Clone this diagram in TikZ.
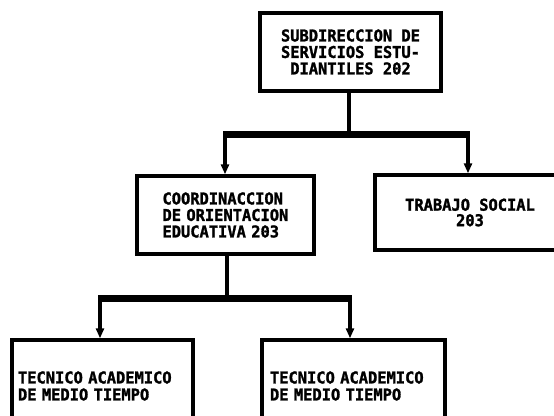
\documentclass[tikz,border=0pt]{standalone}
\usepackage{fontspec}
\newfontfamily\dm[FakeBold=1.6,FakeStretch=0.95]{DejaVu Sans Mono}
\usetikzlibrary{arrows.meta}
\begin{document}
\begin{tikzpicture}[x=1pt,y=-1pt,
  box/.style={draw,line width=3.4pt,rectangle,inner sep=0pt,
    font=\dm\bfseries\fontsize{16.2}{16.5}\selectfont},
  conn/.style={line width=3.4pt},
  bar/.style={line width=7pt,shorten <=-1.7pt,shorten >=-1.7pt},
  arr/.style={line width=3.4pt,-{Triangle[width=8pt,length=10pt]}}]
\useasboundingbox (0,0) rectangle (554,415);
\fill[white] (0,0) rectangle (554,415);
\clip (0,0) rectangle (554,415);

\node[box,minimum width=181pt,minimum height=78pt,align=center] (top) at (350.5,52)
  {SUBDIRECCION DE\\SERVICIOS ESTU-\\DIANTILES 202};
\node[box,minimum width=177pt,minimum height=78pt,text width=126pt,align=left] (mid) at (225.5,215)
  {COORDINACCION\\DE ORIENTACION\\EDUCATIVA 203};
\node[box,minimum width=190pt,minimum height=75pt,align=center] (soc) at (470,212.5)
  {TRABAJO SOCIAL\\[-1pt]203};
\node[box,minimum width=181pt,minimum height=92pt,text width=169pt,align=left,
  font=\dm\bfseries\fontsize{16.2}{17}\selectfont] (bl) at (102.5,386)
  {TECNICO ACADEMICO\\DE MEDIO TIEMPO};
\node[box,minimum width=183pt,minimum height=92pt,text width=167pt,align=left,
  font=\dm\bfseries\fontsize{16.2}{17}\selectfont] (br) at (353.5,386)
  {TECNICO ACADEMICO\\DE MEDIO TIEMPO};

\coordinate (j1) at (349,134);
\coordinate (l1) at (225,134);
\coordinate (r1) at (468,134);
\coordinate (j2) at (227,298);
\coordinate (l2) at (100,298);
\coordinate (r2) at (350,298);

\draw[conn] (top.south -| j1) -- (j1);
\draw[bar] (l1) -- (r1);
\draw[arr] (l1) -- (l1 |- mid.north);
\draw[arr] (r1) -- (r1 |- soc.north);

\draw[conn] (mid.south -| j2) -- (j2);
\draw[bar] (l2) -- (r2);
\draw[arr] (l2) -- (l2 |- bl.north);
\draw[arr] (r2) -- (r2 |- br.north);
\end{tikzpicture}
\end{document}
